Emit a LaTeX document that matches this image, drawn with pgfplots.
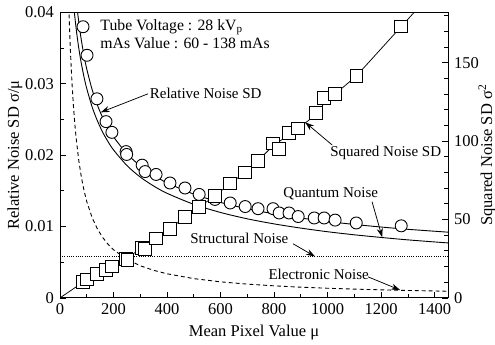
\documentclass[border=0pt]{standalone}
\usepackage{fontspec}
\setmainfont{Liberation Serif}
\usepackage{pgfplots}
\pgfplotsset{compat=1.18}
\usetikzlibrary{arrows.meta,calc}

\pgfplotstableread{
mu rel
86 0.0380
101 0.0340
138 0.0279
172 0.0247
194 0.0232
247 0.0205
249 0.0201
307 0.0186
318 0.0177
359 0.0173
411 0.0161
467 0.0154
520 0.0145
579 0.0138
636 0.0133
692 0.0128
740 0.0125
796 0.0125
819 0.0119
856 0.0119
890 0.0114
950 0.0112
987 0.0112
1028 0.0109
1107 0.0105
1275 0.0101
}\circles

\pgfplotstableread{
mu sq
86 10
101 11.8
138 15.3
172 18.0
194 20
247 25
252 24.2
307 32
318 31.2
359 38
411 44
467 51.7
520 58
579 65
636 73
692 80
740 87.5
796 98.5
819 95
856 105
890 108
957 117.8
987 127.4
1028 130
1107 141.4
1275 173
}\squares

\pgfplotstableread{
mu sq
0 0
86 10
138 15.3
194 20
247 25
307 32
359 38
411 44
467 51.7
520 58
579 65
636 73
692 80
740 87.5
796 97
856 104
890 108
950 116
987 124
1028 130
1107 141.4
1275 173
1323 182
}\sqline

\pgfplotstableread{
mu rel
66 0.03995
70 0.03871
75 0.03731
80 0.03606
90 0.03389
100 0.03208
120 0.02920
140 0.02699
160 0.02522
180 0.02378
200 0.02256
250 0.02021
300 0.01850
350 0.01718
400 0.01613
500 0.01454
600 0.01338
700 0.01249
800 0.01178
900 0.01119
1000 0.01071
1100 0.01029
1200 0.00993
1300 0.00961
1450 0.00921
}\total

\pgfplotstableread{
mu rel
53.75 0.0400
55 0.03954
60 0.03786
65 0.03637
70 0.03505
75 0.03386
80 0.03279
90 0.03091
100 0.02933
120 0.02677
140 0.02479
160 0.02318
180 0.02186
200 0.02074
250 0.01855
300 0.01693
350 0.01568
400 0.01466
500 0.01311
600 0.01197
700 0.01108
800 0.01037
900 0.00978
1000 0.00927
1100 0.00884
1200 0.00847
1300 0.00813
1450 0.00770
}\quantum

\pgfplotstableread{
mu rel
34 0.03971
36 0.0375
38 0.03553
40 0.03375
45 0.0300
50 0.0270
55 0.02455
60 0.0225
70 0.01929
80 0.01688
90 0.0150
100 0.0135
120 0.01125
140 0.00964
160 0.00844
180 0.0075
200 0.00675
250 0.0054
300 0.0045
350 0.00386
400 0.00338
500 0.0027
600 0.00225
700 0.00193
800 0.00169
900 0.0015
1000 0.00135
1100 0.00123
1200 0.00113
1300 0.00104
1450 0.00093
}\electronic

\pgfplotstableread{
mu rel
0 0.00575
1450 0.00575
}\structural

\tikzset{arr/.style={-{Stealth[length=6pt,width=4pt]}, line width=0.5pt}}
\newcommand\fs{\fontsize{10}{12}\selectfont}
\newcommand\fl{\fontsize{11}{13}\selectfont}

\begin{document}
\begin{tikzpicture}[font=\fs]
\pgfplotsset{
  common/.style={
    width=258.7pt, height=190.3pt, scale only axis,
    xmin=0, xmax=1450,
    tick align=inside,
    major tick length=4pt, minor tick length=2.5pt,
    /pgf/number format/assume math mode=true,
    /pgf/number format/1000 sep={},
    axis line style={line width=0.6pt},
    every tick/.style={black, line width=0.5pt},
    tick label style={font=\fl},
    label style={font=\fl},
    clip=true,
  },
}
\begin{axis}[common,
  ymin=0, ymax=0.04,
  ytick={0,0.01,0.02,0.03,0.04},
  yticklabels={0,0.01,0.02,0.03,0.04},
  minor ytick={0.005,0.015,0.025,0.035},
  scaled y ticks=false,
  xtick={0,200,...,1400},
  minor xtick={100,300,...,1300},
  xtick pos=bottom, ytick pos=left,
  xticklabel style={yshift=-0.5pt},
  yticklabel style={xshift=-0.5pt},
  xlabel={Mean Pixel Value μ},
  ylabel={Relative Noise SD σ/μ},
  xlabel style={at={(axis description cs:0.5,-0.1224)}, anchor=center},
  ylabel style={at={(axis description cs:-0.116,0.5)}, anchor=center},
]
\coordinate (SW) at (rel axis cs:0,0);
\coordinate (NE) at (rel axis cs:1,1);
\addplot[densely dotted, line width=0.5pt] table[x=mu,y=rel] {\structural};
\addplot[dash pattern=on 2.6pt off 2pt, line width=0.6pt] table[x=mu,y=rel] {\electronic};
\addplot[smooth, line width=0.6pt] table[x=mu,y=rel] {\quantum};
\addplot[smooth, line width=0.6pt] table[x=mu,y=rel] {\total};
\addplot[only marks, mark=*, mark size=4pt, mark options={fill=white, draw=black, line width=0.6pt}] table[x=mu,y=rel] {\circles};

\node[anchor=north west, align=left, inner sep=0pt, font=\fontsize{10.5}{12}\selectfont] at (axis cs:150,0.0391)
  {Tube Voltage : 28 kV\textsubscript{p}\\mAs Value : 60 - 138 mAs};
\node[anchor=west, inner sep=1pt] at (axis cs:329,0.0286) {Relative Noise SD};
\draw[arr] (axis cs:329,0.0286) -- (axis cs:152,0.0260);
\node[anchor=west, inner sep=0pt] at (axis cs:834,0.0146) {Quantum Noise};
\draw[arr] (axis cs:1166,0.01347) -- (axis cs:1204,0.00850);
\node[anchor=west, inner sep=0pt] at (axis cs:486,0.00828) {Structural Noise};
\draw[arr] (axis cs:871,0.00758) -- (axis cs:953,0.00580);
\node[anchor=west, inner sep=0pt] at (axis cs:778,0.00323) {Electronic Noise};
\draw[arr] (axis cs:1151,0.00295) -- (axis cs:1271,0.00110);
\end{axis}

\begin{axis}[common,
  ymin=0, ymax=182,
  axis y line*=right, axis x line=none,
  ytick={0,50,100,150},
  minor ytick={10,20,30,40,60,70,80,90,110,120,130,140,160,170,180},
  yticklabel style={xshift=0.5pt},
  ylabel={Squared Noise SD σ\textsuperscript{2}},
  ylabel style={at={(axis description cs:1.1005,0.5)}, anchor=center},
]
\addplot[line width=0.5pt] table[x=mu,y=sq] {\sqline};
\addplot[only marks, mark=square*, mark size=4.2pt, mark options={fill=white, draw=black, line width=0.6pt}] table[x=mu,y=sq] {\squares};
\node[anchor=west, inner sep=0pt] at (axis cs:1009,92.4) {Squared Noise SD};
\draw[arr] (axis cs:1017,97.5) -- (axis cs:916,112);
\end{axis}
\pgfresetboundingbox
\path[use as bounding box] ($(SW)+(-40pt,-31.3pt)$) rectangle ($(NE)+(31.3pt,8.3pt)$);
\end{tikzpicture}
\end{document}
